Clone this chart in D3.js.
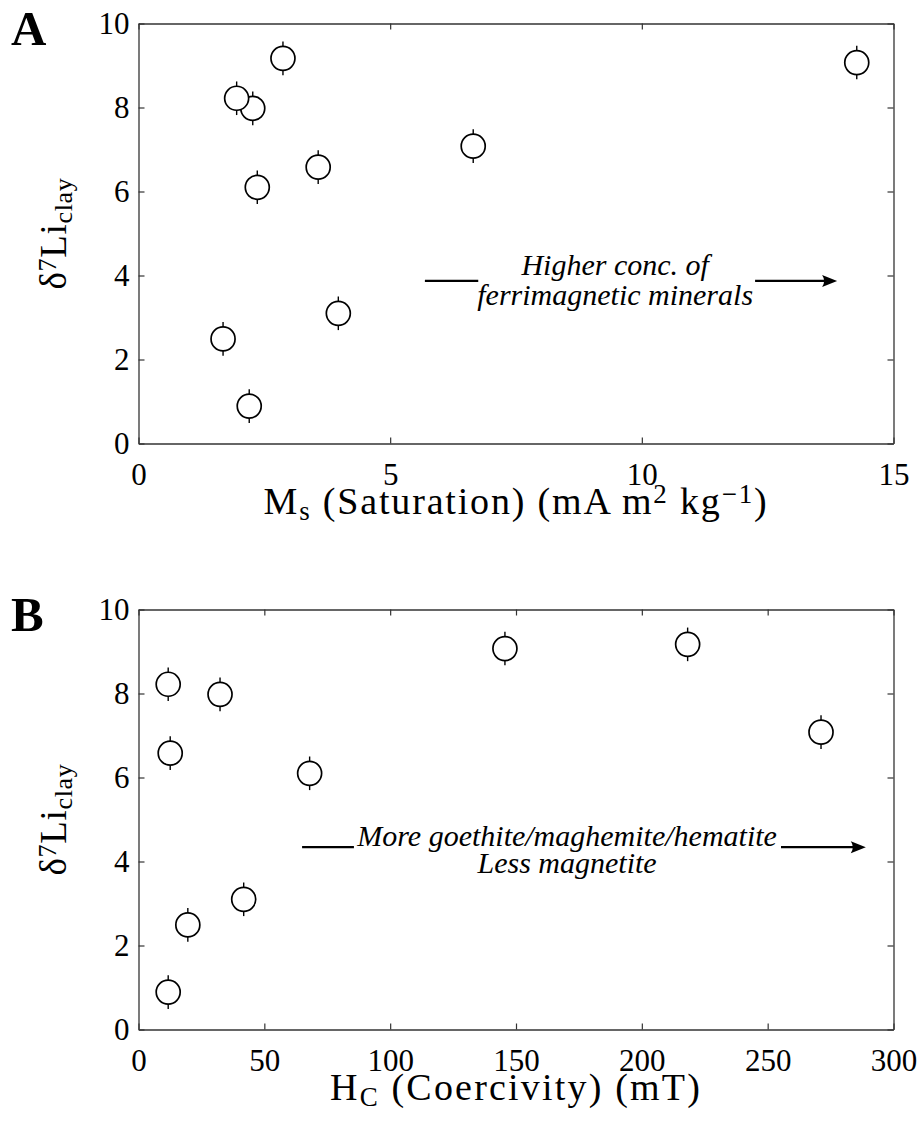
<!DOCTYPE html>
<html>
<head>
<meta charset="utf-8">
<script src="https://cdn.jsdelivr.net/npm/d3@7"></script>
<style>
  body { margin: 0; background: #fff; }
  svg { display: block; }
  text { font-family: "Liberation Serif", "DejaVu Serif", serif; fill: #000; }
</style>
</head>
<body>
<div id="vis"></div>
<script>
// one entry per sample, same order in every array
const li7 = [9.17, 7.98, 8.22, 6.1, 6.58, 7.08, 9.07, 3.1, 2.49, 0.89];
const ms = [2.87, 2.27, 1.95, 2.36, 3.57, 6.65, 14.27, 3.97, 1.68, 2.2];
const hc = [218.2, 32.4, 11.8, 68.0, 12.6, 271.2, 145.6, 41.8, 19.6, 11.8];
const liErr = 0.4;

const yTicks = [0, 2, 4, 6, 8, 10];
const msTicks = [0, 5, 10, 15];
const hcTicks = [0, 50, 100, 150, 200, 250, 300];

const W = 922, H = 1129;
const left = 138.5, right = 893.5;

const svg = d3.select("#vis").append("svg")
  .attr("width", W).attr("height", H);

// widen a label to `target` px with letter spacing (LaTeX font is wider than Times)
function spreadTo(sel, target) {
  const node = sel.node();
  const n = node.textContent.length;
  const w = node.getComputedTextLength();
  sel.attr("letter-spacing", Math.max(0, (target - w) / n));
}

function panel(opts) {
  const x = d3.scaleLinear().domain(opts.xDomain).range([left, right]);
  const y = d3.scaleLinear().domain([0, 10]).range([opts.bottom, opts.top]);
  const g = svg.append("g");

  // frame + inward ticks on all sides
  g.append("g").attr("transform", `translate(0,${opts.bottom})`)
    .call(d3.axisBottom(x).tickValues(opts.xTicks).tickSize(-6).tickPadding(19).tickSizeOuter(0));
  g.append("g").attr("transform", `translate(0,${opts.top})`)
    .call(d3.axisTop(x).tickValues(opts.xTicks).tickSize(-6).tickSizeOuter(0).tickFormat(""));
  g.append("g").attr("transform", `translate(${left},0)`)
    .call(d3.axisLeft(y).tickValues(yTicks).tickSize(-6).tickPadding(9).tickSizeOuter(0));
  g.append("g").attr("transform", `translate(${right},0)`)
    .call(d3.axisRight(y).tickValues(yTicks).tickSize(-6).tickSizeOuter(0).tickFormat(""));

  g.selectAll(".domain").attr("stroke", "#333").attr("stroke-width", 1.3);
  g.selectAll(".tick line").attr("stroke", "#333").attr("stroke-width", 1.2);
  g.selectAll(".tick text").attr("font-size", 31).attr("fill", "#000");

  // points with error bars
  const pts = g.append("g").selectAll("g").data(opts.xs.map((v, i) => [v, li7[i]])).join("g");
  pts.append("line")
    .attr("x1", d => x(d[0])).attr("x2", d => x(d[0]))
    .attr("y1", d => y(d[1] - liErr)).attr("y2", d => y(d[1] + liErr))
    .attr("stroke", "#000").attr("stroke-width", 1.4);
  pts.append("circle")
    .attr("cx", d => x(d[0])).attr("cy", d => y(d[1])).attr("r", 12)
    .attr("fill", "#fff").attr("stroke", "#000").attr("stroke-width", 1.7);

  // annotation with arrow
  const a = opts.note;
  g.append("line")
    .attr("x1", x(a.lineFrom)).attr("x2", x(a.lineTo))
    .attr("y1", y(a.y)).attr("y2", y(a.y))
    .attr("stroke", "#000").attr("stroke-width", 2.2);
  g.append("line")
    .attr("x1", x(a.arrowFrom)).attr("x2", x(a.arrowTo) - 12)
    .attr("y1", y(a.y)).attr("y2", y(a.y))
    .attr("stroke", "#000").attr("stroke-width", 2.2);
  const tx = x(a.arrowTo), ty = y(a.y);
  g.append("path")
    .attr("d", `M${tx},${ty} L${tx - 15},${ty - 6} Q${tx - 11},${ty} ${tx - 15},${ty + 6} Z`)
    .attr("fill", "#000");
  const t = g.append("text")
    .attr("x", x(a.textX)).attr("y", y(a.y) + a.dy)
    .attr("text-anchor", "middle")
    .attr("font-style", "italic").attr("font-size", 30);
  a.lines.forEach((s, i) => {
    t.append("tspan").attr("x", x(a.textX)).attr("dy", i === 0 ? 0 : a.lineGap).text(s);
  });

  // y label
  const cy = (opts.top + opts.bottom) / 2;
  const yl = g.append("text")
    .attr("transform", `translate(66,${cy}) rotate(-90)`)
    .attr("text-anchor", "middle").attr("font-size", 37);
  yl.append("tspan").text("δ");
  yl.append("tspan").attr("baseline-shift", "40%").attr("font-size", 26).text("7");
  yl.append("tspan").text("Li");
  yl.append("tspan").attr("baseline-shift", "-22%").attr("font-size", 26).text("clay");
  spreadTo(yl, 112);

  // x label
  const xl = g.append("text")
    .attr("x", (left + right) / 2).attr("y", opts.bottom + 70)
    .attr("text-anchor", "middle").attr("font-size", 38);
  opts.xLabel.forEach(p => {
    const s = xl.append("tspan").text(p[0]);
    if (p[1] === "sub") s.attr("baseline-shift", "-22%").attr("font-size", 27);
    if (p[1] === "sup") s.attr("baseline-shift", "40%").attr("font-size", 27);
  });
  spreadTo(xl, opts.xLabelWidth);

  // panel letter
  g.append("text").attr("x", 11).attr("y", opts.top + 21)
    .attr("font-size", 49).attr("font-weight", "bold").text(opts.letter);
}

panel({
  letter: "A", top: 23.5, bottom: 443.5,
  xDomain: [0, 15], xTicks: msTicks, xs: ms,
  xLabel: [["M"], ["s", "sub"], [" (Saturation) (mA m"], ["2", "sup"], [" kg"], ["−1", "sup"], [")"]],
  xLabelWidth: 505,
  note: { y: 3.87, lineFrom: 5.69, lineTo: 6.75, arrowFrom: 12.25, arrowTo: 13.88,
          textX: 9.47, dy: -6, lineGap: 30,
          lines: ["Higher conc. of", "ferrimagnetic minerals"] }
});

panel({
  letter: "B", top: 609.5, bottom: 1029.5,
  xDomain: [0, 300], xTicks: hcTicks, xs: hc,
  xLabel: [["H"], ["C", "sub"], [" (Coercivity) (mT)"]],
  xLabelWidth: 372,
  note: { y: 4.34, lineFrom: 65, lineTo: 85.6, arrowFrom: 255.3, arrowTo: 289,
          textX: 170.3, dy: -1, lineGap: 27,
          lines: ["More goethite/maghemite/hematite", "Less magnetite"] }
});
</script>
</body>
</html>
